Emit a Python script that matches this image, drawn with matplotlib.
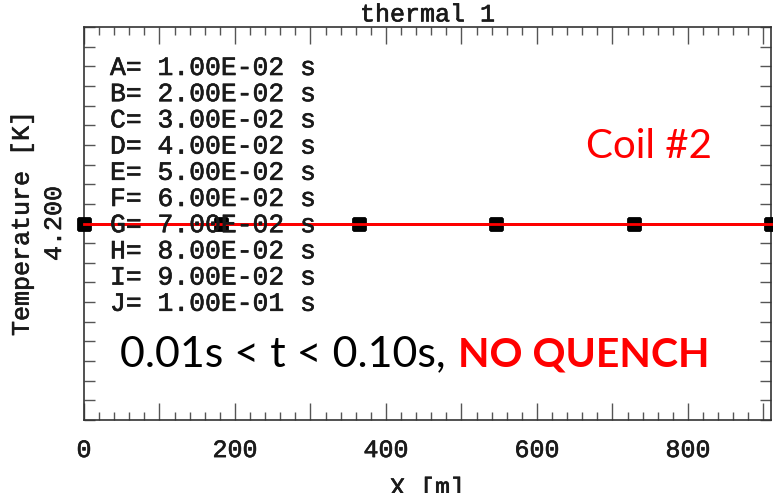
import matplotlib
matplotlib.use("Agg")
import matplotlib.pyplot as plt
import matplotlib.patheffects as pe
from matplotlib.ticker import MultipleLocator, FixedLocator, FuncFormatter

# Series: ten output times, temperature sampled along the coil
series_labels = ["A", "B", "C", "D", "E", "F", "G", "H", "I", "J"]
series_times = ["1.00E-02", "2.00E-02", "3.00E-02", "4.00E-02", "5.00E-02",
                "6.00E-02", "7.00E-02", "8.00E-02", "9.00E-02", "1.00E-01"]
x_pos = [0, 182, 364, 546, 728, 910]
temps = {lab: [4.2, 4.2, 4.2, 4.2, 4.2, 4.2] for lab in series_labels}

x_tick_labels = {0: "0", 200: "200", 400: "400", 600: "600", 800: "800"}
y_tick_labels = {4.2: "4.200"}

W, H = 773, 493
fig = plt.figure(figsize=(W / 100, H / 100), dpi=100)
ax = fig.add_axes([84 / W, 1 - 420 / H, (771 - 84) / W, (420 - 27) / H])

mono = "Liberation Mono"
txt_col = "#1a1a1a"
# slightly heavier strokes for the monospace text
heavy = [pe.withStroke(linewidth=0.45, foreground=txt_col)]

for lab in series_labels[:-1]:
    ax.plot(x_pos, temps[lab], color="black", lw=1.0, marker="s",
            markersize=8.5, markerfacecolor="black", markeredgecolor="black",
            clip_on=False, zorder=3)
ax.plot(x_pos, temps[series_labels[-1]], color="red", lw=2.0, marker="s",
        markersize=8.5, markerfacecolor="black", markeredgecolor="black",
        clip_on=False, zorder=4)
ax.plot(x_pos, temps[series_labels[-1]], color="red", lw=2.0, zorder=5,
        clip_on=False)

ax.set_xlim(0, 910)
ax.set_ylim(4.19, 4.21)

ax.xaxis.set_major_locator(MultipleLocator(100))
ax.xaxis.set_minor_locator(MultipleLocator(20))
ax.xaxis.set_major_formatter(FuncFormatter(
    lambda v, p: x_tick_labels.get(int(round(v)), "")))

yt = [4.19 + 0.001 * i for i in range(21)]
ax.yaxis.set_major_locator(FixedLocator(yt))
ax.yaxis.set_major_formatter(FuncFormatter(
    lambda v, p: y_tick_labels.get(round(v, 3), "")))

ax.tick_params(axis="x", which="major", direction="in", length=12, width=1.0,
               top=True, bottom=True, color="#555555", pad=13,
               labelsize=18, labelcolor=txt_col)
ax.tick_params(axis="x", which="minor", direction="in", length=6, width=1.0,
               top=True, bottom=True, color="#555555")
ax.tick_params(axis="y", which="major", direction="in", length=8, width=1.0,
               left=True, right=True, color="#555555", pad=13,
               labelsize=18, labelcolor=txt_col)
for lbl in ax.get_xticklabels():
    lbl.set_family(mono)
    lbl.set_path_effects(heavy)
for lbl in ax.get_yticklabels():
    lbl.set_family(mono)
    lbl.set_rotation(90)
    lbl.set_va("center")
    lbl.set_path_effects(heavy)

for s in ax.spines.values():
    s.set_color("#333333")
    s.set_linewidth(1.2)

ax.set_title("thermal 1", family=mono, fontsize=18, color=txt_col, pad=4,
             path_effects=heavy)
ax.set_xlabel("X [m]", family=mono, fontsize=18, color=txt_col, labelpad=10,
              path_effects=heavy)
ax.set_ylabel("Temperature [K]", family=mono, fontsize=18, color=txt_col,
              labelpad=6, path_effects=heavy)

# Time legend, one line per series
for i, (lab, t) in enumerate(zip(series_labels, series_times)):
    y_px = 75 + i * 26.2
    fig.text(110 / W, 1 - y_px / H, f"{lab}= {t} s", family=mono, fontsize=19,
             color=txt_col, ha="left", va="baseline", path_effects=heavy)

sans = ["Lato", "DejaVu Sans"]
fig.text(586 / W, 1 - 158 / H, "Coil #2", family=sans, fontsize=29,
         color="red", ha="left", va="baseline")
fig.text(120 / W, 1 - 366 / H, "0.01s < t < 0.10s,", family=sans,
         fontsize=31, color="black", ha="left", va="baseline")
fig.text(458 / W, 1 - 366 / H, "NO QUENCH", family=sans, fontsize=29.5,
         fontweight="bold", color="red", ha="left", va="baseline")

fig.savefig("out.png", dpi=100)
